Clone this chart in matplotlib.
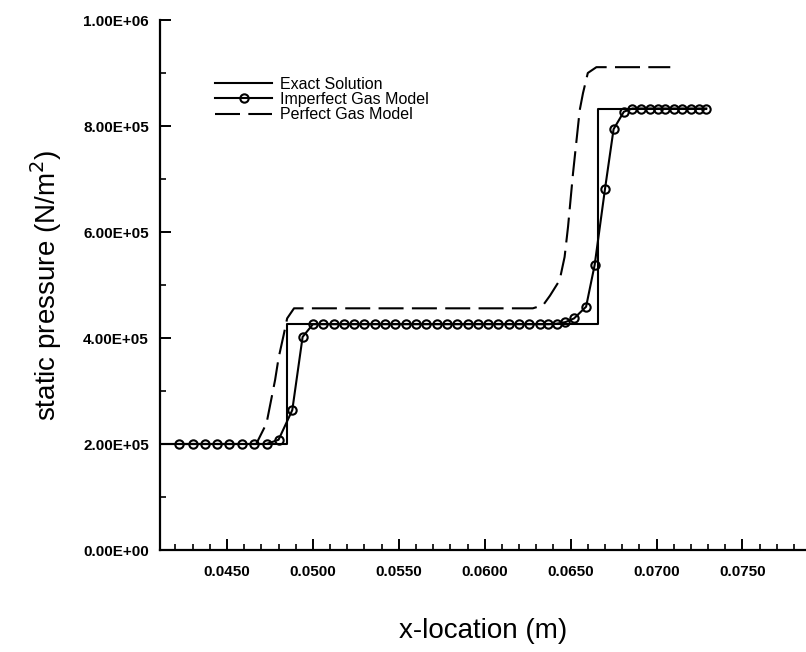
import matplotlib
matplotlib.use("Agg")
import matplotlib.pyplot as plt
from matplotlib.ticker import FuncFormatter, MultipleLocator

plt.rcParams['font.family'] = ['Liberation Sans', 'DejaVu Sans']

# exact (Riemann) solution
exact_x = [0.0405, 0.04847, 0.04847, 0.06657, 0.06657, 0.0729]
exact_p = [2.00e5, 2.00e5, 4.27e5, 4.27e5, 8.33e5, 8.33e5]

# imperfect gas model (computed cell values)
imp_x = [0.0422, 0.0430, 0.0437, 0.0444, 0.0451, 0.0459, 0.0466, 0.0473,
         0.0480, 0.0488, 0.0494, 0.0500, 0.0506, 0.0512, 0.0518, 0.0524,
         0.0530, 0.0536, 0.0542, 0.0548, 0.0554, 0.0560, 0.0566, 0.0572,
         0.0578, 0.0584, 0.0590, 0.0596, 0.0602, 0.0608, 0.0614, 0.0620,
         0.0626, 0.0632, 0.0637, 0.0642, 0.0647, 0.0652, 0.0659, 0.0664,
         0.0670, 0.0675, 0.0681, 0.0686, 0.0691, 0.0696, 0.0701, 0.0705,
         0.0710, 0.0715, 0.0720, 0.0725, 0.0729]
imp_p = [2.00e5, 2.00e5, 2.00e5, 2.00e5, 2.00e5, 2.00e5, 2.00e5, 2.00e5,
         2.08e5, 2.64e5, 4.02e5, 4.26e5, 4.26e5, 4.26e5, 4.26e5, 4.26e5,
         4.26e5, 4.26e5, 4.26e5, 4.26e5, 4.26e5, 4.26e5, 4.26e5, 4.26e5,
         4.26e5, 4.26e5, 4.26e5, 4.26e5, 4.26e5, 4.26e5, 4.26e5, 4.26e5,
         4.26e5, 4.26e5, 4.26e5, 4.27e5, 4.30e5, 4.37e5, 4.59e5, 5.38e5,
         6.81e5, 7.94e5, 8.27e5, 8.33e5, 8.33e5, 8.33e5, 8.33e5, 8.33e5,
         8.33e5, 8.33e5, 8.33e5, 8.33e5, 8.33e5]

# perfect gas model
perf_x = [0.0405, 0.0467, 0.0473, 0.0478, 0.0480, 0.0483, 0.0485, 0.0489,
          0.0628, 0.0634, 0.0638, 0.06436, 0.06465, 0.06485, 0.06514,
          0.06553, 0.06572, 0.0660, 0.0665, 0.0708]
perf_p = [2.00e5, 2.00e5, 2.39e5, 3.21e5, 3.62e5, 4.06e5, 4.37e5, 4.56e5,
          4.56e5, 4.62e5, 4.80e5, 5.09e5, 5.53e5, 6.10e5, 7.11e5,
          8.30e5, 8.62e5, 9.00e5, 9.11e5, 9.11e5]

fig = plt.figure(figsize=(8.06, 6.52), dpi=100)
ax = fig.add_axes([160 / 806, 102 / 652, 646 / 806, 530 / 652])

ax.plot(exact_x, exact_p, color='black', lw=1.5, label='Exact Solution')
ax.plot(imp_x, imp_p, color='black', lw=1.5, marker='o', ms=6,
        mfc='none', mew=1.5, label='Imperfect Gas Model')
ax.plot(perf_x, perf_p, color='black', lw=1.5, dashes=(12, 4),
        label='Perfect Gas Model')

ax.set_xlim(0.0411, 0.0787)
ax.set_ylim(0, 1.0e6)

ax.spines['top'].set_visible(False)
ax.spines['right'].set_visible(False)
ax.spines['left'].set_linewidth(1.6)
ax.spines['bottom'].set_linewidth(1.6)

ax.xaxis.set_major_locator(MultipleLocator(0.005))
ax.xaxis.set_minor_locator(MultipleLocator(0.001))
ax.yaxis.set_major_locator(MultipleLocator(2.0e5))
ax.yaxis.set_minor_locator(MultipleLocator(1.0e5))
ax.xaxis.set_major_formatter(FuncFormatter(lambda v, p: f'{v:.4f}'))
ax.yaxis.set_major_formatter(FuncFormatter(lambda v, p: f'{v:.2E}'))
ax.tick_params(which='major', direction='in', length=8, width=1.4,
               labelsize=11, pad=8)
ax.tick_params(axis='x', which='major', pad=11)
ax.tick_params(which='minor', direction='in', length=4, width=1.2)
for lab in ax.get_xticklabels() + ax.get_yticklabels():
    lab.set_fontweight('bold')

ax.set_xlabel('x-location (m)', fontsize=20, labelpad=28)
ax.set_ylabel('static pressure (N/m$^2$)', fontsize=20, labelpad=14)

ax.legend(loc='upper left', bbox_to_anchor=(0.075, 0.905), frameon=False,
          fontsize=11.5, handlelength=3.6, handletextpad=0.5,
          labelspacing=0.02, borderaxespad=0)

fig.savefig('out.png', dpi=100)
